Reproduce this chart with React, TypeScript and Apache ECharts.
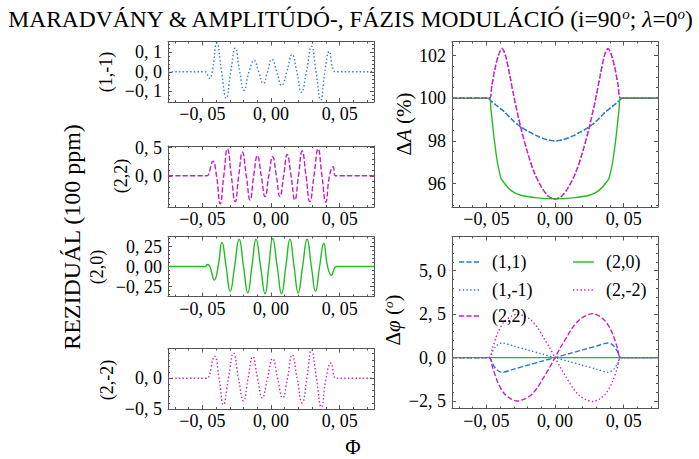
import React, { useEffect, useRef } from "react";
import * as echarts from "echarts";

// ---------------- data ----------------
const X_MIN = -0.075;
const X_MAX = 0.075;
const xMajorTicks = [-0.05, 0, 0.05];

// residual panels (phase, residual in 100 ppm)
const resid_1m1: [number, number][] = [
  [-0.075, 0], [-0.049, 0], [-0.048, 0], [-0.0447, -0.034], [-0.0428, 0], [-0.0394, 0.147],
  [-0.036, 0], [-0.0326, -0.135], [-0.0293, 0], [-0.026, 0.121], [-0.0228, 0], [-0.0196, -0.095],
  [-0.016, 0], [-0.0123, 0.058], [-0.009, 0], [-0.0056, -0.06], [-0.0025, 0], [0.0006, 0.064],
  [0.0042, 0], [0.0077, -0.07], [0.0115, 0], [0.0154, 0.088], [0.0188, 0], [0.0222, -0.105],
  [0.0258, 0], [0.0295, 0.13], [0.0328, 0], [0.0362, -0.145], [0.0392, 0], [0.0423, 0.104],
  [0.0452, 0.01], [0.047, 0], [0.048, 0], [0.075, 0],
];
const resid_22: [number, number][] = [
  [-0.075, 0], [-0.0475, 0], [-0.0466, 0], [-0.0423, 0.26], [-0.0397, 0], [-0.037, -0.5],
  [-0.0344, 0], [-0.0317, 0.48], [-0.0289, 0], [-0.0261, -0.46], [-0.0235, 0], [-0.0208, 0.42],
  [-0.018, 0], [-0.0152, -0.43], [-0.0126, 0], [-0.0099, 0.36], [-0.0071, 0], [-0.0043, -0.37],
  [-0.0016, 0], [0.0012, 0.34], [0.0039, 0], [0.0065, -0.37], [0.0092, 0], [0.0118, 0.38],
  [0.0146, 0], [0.0174, -0.43], [0.02, 0], [0.0227, 0.44], [0.0255, 0], [0.0283, -0.46],
  [0.0313, 0], [0.0343, 0.48], [0.0371, 0], [0.0399, -0.47], [0.0426, 0], [0.0452, 0.16],
  [0.0468, 0], [0.0478, 0], [0.075, 0],
];
const resid_20: [number, number][] = [
  [-0.075, 0], [-0.0485, 0], [-0.0478, 0], [-0.0465, 0.025], [-0.0445, 0], [-0.0413, -0.17],
  [-0.0385, 0], [-0.0357, 0.3], [-0.0327, 0], [-0.0297, -0.31], [-0.0265, 0], [-0.0232, 0.34],
  [-0.02, 0], [-0.0169, -0.33], [-0.0139, 0], [-0.0109, 0.34], [-0.0076, 0], [-0.0043, -0.34],
  [-0.0016, 0], [0.0012, 0.35], [0.0045, 0], [0.0077, -0.34], [0.0108, 0], [0.0138, 0.34],
  [0.0168, 0], [0.0198, -0.33], [0.023, 0], [0.0263, 0.34], [0.0294, 0], [0.0324, -0.31],
  [0.0354, 0], [0.0384, 0.29], [0.0412, 0], [0.044, -0.11], [0.0465, -0.01], [0.048, 0],
  [0.0487, 0], [0.075, 0],
];
const resid_2m2: [number, number][] = [
  [-0.075, 0], [-0.0475, 0], [-0.0466, 0], [-0.0411, 0.36], [-0.0378, 0], [-0.0346, -0.43],
  [-0.031, 0], [-0.0273, 0.41], [-0.0237, 0], [-0.02, -0.37], [-0.0167, 0], [-0.0133, 0.35],
  [-0.0098, 0], [-0.0063, -0.32], [-0.0026, 0], [0.0012, 0.32], [0.0048, 0], [0.0085, -0.32],
  [0.012, 0], [0.0154, 0.38], [0.019, 0], [0.0227, -0.4], [0.0261, 0], [0.0295, 0.46],
  [0.0331, 0], [0.0367, -0.47], [0.0401, 0], [0.0435, 0.25], [0.047, 0], [0.0478, 0], [0.075, 0],
];

// amplitude modulation ΔA (%)
const dA_11: [number, number][] = [
  [-0.075, 100], [-0.049, 100], [-0.046, 99.84], [-0.043, 99.68], [-0.037, 99.37], [-0.031, 98.98],
  [-0.025, 98.66], [-0.019, 98.43], [-0.013, 98.23], [-0.0065, 98.07], [0, 98.0], [0.0065, 98.07],
  [0.013, 98.23], [0.019, 98.43], [0.025, 98.66], [0.031, 98.98], [0.037, 99.37], [0.043, 99.68],
  [0.046, 99.84], [0.049, 100], [0.075, 100],
];
const dA_1m1: [number, number][] = [
  [-0.075, 100], [-0.049, 100], [-0.046, 99.84], [-0.043, 99.68], [-0.037, 99.37], [-0.031, 98.98],
  [-0.025, 98.66], [-0.019, 98.43], [-0.013, 98.23], [-0.0065, 98.07], [0, 98.0], [0.0065, 98.07],
  [0.013, 98.23], [0.019, 98.43], [0.025, 98.66], [0.031, 98.98], [0.037, 99.37], [0.043, 99.68],
  [0.046, 99.84], [0.049, 100], [0.075, 100],
];
const dA_22: [number, number][] = [
  [-0.075, 100], [-0.048, 100], [-0.046, 100.6], [-0.0435, 101.45], [-0.041, 102.05], [-0.0386, 102.33],
  [-0.036, 102.0], [-0.033, 101.1], [-0.03, 100.1], [-0.025, 98.65], [-0.02, 97.45], [-0.015, 96.5],
  [-0.01, 95.85], [-0.005, 95.42], [0, 95.27], [0.005, 95.42], [0.01, 95.85], [0.015, 96.5],
  [0.02, 97.45], [0.025, 98.65], [0.03, 100.1], [0.033, 101.1], [0.036, 102.0], [0.0386, 102.33],
  [0.041, 102.05], [0.0435, 101.45], [0.046, 100.6], [0.048, 100], [0.075, 100],
];
const dA_2m2: [number, number][] = [
  [-0.075, 100], [-0.048, 100], [-0.046, 100.6], [-0.0435, 101.45], [-0.041, 102.05], [-0.0386, 102.33],
  [-0.036, 102.0], [-0.033, 101.1], [-0.03, 100.1], [-0.025, 98.65], [-0.02, 97.45], [-0.015, 96.5],
  [-0.01, 95.85], [-0.005, 95.42], [0, 95.27], [0.005, 95.42], [0.01, 95.85], [0.015, 96.5],
  [0.02, 97.45], [0.025, 98.65], [0.03, 100.1], [0.033, 101.1], [0.036, 102.0], [0.0386, 102.33],
  [0.041, 102.05], [0.0435, 101.45], [0.046, 100.6], [0.048, 100], [0.075, 100],
];
const dA_20: [number, number][] = [
  [-0.075, 100], [-0.0478, 100], [-0.0466, 99.45], [-0.0442, 98.04], [-0.0418, 96.94], [-0.0398, 96.36],
  [-0.039, 96.2], [-0.0321, 95.68], [-0.0249, 95.45], [-0.0128, 95.33], [0, 95.29], [0.0128, 95.33],
  [0.0249, 95.45], [0.0321, 95.68], [0.039, 96.2], [0.0398, 96.36], [0.0418, 96.94], [0.0442, 98.04],
  [0.0466, 99.45], [0.0478, 100], [0.075, 100],
];

// phase modulation Δφ (deg)
const dPhi_11: [number, number][] = [
  [-0.075, 0], [-0.048, 0], [-0.0455, -0.35], [-0.043, -0.65], [-0.0405, -0.8], [-0.0386, -0.84],
  [-0.03, -0.66], [-0.02, -0.44], [-0.01, -0.22], [0, 0], [0.01, 0.22], [0.02, 0.44], [0.03, 0.66],
  [0.0386, 0.84], [0.0405, 0.8], [0.043, 0.65], [0.0455, 0.35], [0.048, 0], [0.075, 0],
];
const dPhi_1m1: [number, number][] = [
  [-0.075, 0], [-0.048, 0], [-0.0455, 0.35], [-0.043, 0.65], [-0.0405, 0.8], [-0.0386, 0.84],
  [-0.03, 0.66], [-0.02, 0.44], [-0.01, 0.22], [0, 0], [0.01, -0.22], [0.02, -0.44], [0.03, -0.66],
  [0.0386, -0.84], [0.0405, -0.8], [0.043, -0.65], [0.0455, -0.35], [0.048, 0], [0.075, 0],
];
const dPhi_22: [number, number][] = [
  [-0.075, 0], [-0.048, 0], [-0.0455, -0.55], [-0.0418, -1.4], [-0.037, -2.07], [-0.032, -2.38],
  [-0.0275, -2.5], [-0.022, -2.38], [-0.0176, -2.17], [-0.013, -1.75], [-0.008, -1.11], [-0.004, -0.58],
  [0, 0], [0.004, 0.58], [0.008, 1.11], [0.013, 1.75], [0.0176, 2.17], [0.022, 2.4], [0.0275, 2.53],
  [0.032, 2.4], [0.037, 2.07], [0.0418, 1.4], [0.0455, 0.55], [0.048, 0], [0.075, 0],
];
const dPhi_2m2: [number, number][] = [
  [-0.075, 0], [-0.048, 0], [-0.0455, 0.55], [-0.0418, 1.4], [-0.037, 2.07], [-0.032, 2.38],
  [-0.0275, 2.5], [-0.022, 2.38], [-0.0176, 2.17], [-0.013, 1.75], [-0.008, 1.11], [-0.004, 0.58],
  [0, 0], [0.004, -0.58], [0.008, -1.11], [0.013, -1.75], [0.0176, -2.17], [0.022, -2.4], [0.0275, -2.53],
  [0.032, -2.4], [0.037, -2.07], [0.0418, -1.4], [0.0455, -0.55], [0.048, 0], [0.075, 0],
];
const dPhi_20: [number, number][] = [[-0.075, 0], [0.075, 0]];

// tick values
const yTicksL1 = [-0.1, 0, 0.1];
const yTicksL2 = [0, 0.5];
const yTicksL3 = [-0.25, 0, 0.25];
const yTicksL4 = [-0.5, 0];
const yTicksR1 = [96, 98, 100, 102];
const yTicksR2 = [-2.5, 0, 2.5, 5];

const legendNames = ["(1,1)", "(1,-1)", "(2,2)", "(2,0)", "(2,-2)"];

// ---------------- styling ----------------
const BLUE = "#2a79d0";
const MAGENTA = "#c81ec8";
const GREEN = "#22bd22";
const FRAME = "#555555";
const FONT = "'Liberation Serif', 'DejaVu Serif', serif";
const LW = 1.4;
const DASH = [5.2, 2.2];
const DOT = [1.4, 2.3];

type Style = { color: string; dash: number[] | "solid" };
const styles: Style[] = [
  { color: BLUE, dash: DASH },
  { color: BLUE, dash: DOT },
  { color: MAGENTA, dash: DASH },
  { color: GREEN, dash: "solid" },
  { color: MAGENTA, dash: DOT },
];

const fmt = (dec: number) => (v: number) => {
  const s = Math.abs(v).toFixed(dec).replace(".", ", ");
  return (v < -1e-9 ? "\u2212" : "") + s;
};

function minorTicks(min: number, max: number, step: number, majors: number[]) {
  const out: number[] = [];
  const start = Math.ceil(min / step - 1e-9);
  for (let k = start; k * step <= max + 1e-9; k++) {
    const v = +(k * step).toFixed(6);
    if (!majors.some((m) => Math.abs(m - v) < 1e-9)) out.push(v);
  }
  return out;
}

type Panel = {
  left: number; top: number; width: number; height: number;
  yMin: number; yMax: number; yMajor: number[]; yMinorStep: number; yDec: number;
};

const panels: Panel[] = [
  { left: 168, top: 41.5, width: 206, height: 60.5, yMin: -0.155, yMax: 0.155, yMajor: yTicksL1, yMinorStep: 0.02, yDec: 1 },
  { left: 168, top: 146, width: 206, height: 61, yMin: -0.555, yMax: 0.53, yMajor: yTicksL2, yMinorStep: 0.1, yDec: 1 },
  { left: 168, top: 236.5, width: 206, height: 60, yMin: -0.375, yMax: 0.375, yMajor: yTicksL3, yMinorStep: 0.05, yDec: 2 },
  { left: 168, top: 348.5, width: 206, height: 60.5, yMin: -0.5, yMax: 0.485, yMajor: yTicksL4, yMinorStep: 0.1, yDec: 1 },
  { left: 452, top: 41.5, width: 206, height: 165.5, yMin: 94.9, yMax: 102.66, yMajor: yTicksR1, yMinorStep: 0.5, yDec: 0 },
  { left: 452, top: 236.5, width: 206, height: 172, yMin: -2.93, yMax: 6.97, yMajor: yTicksR2, yMinorStep: 0.5, yDec: 1 },
];

const labelStyle = { fontFamily: FONT, fontSize: 18, color: "#000" };
const tickLine = { color: FRAME, width: 1 };

function buildAxes() {
  const grids: any[] = [];
  const xAxes: any[] = [];
  const yAxes: any[] = [];
  const xMinor = minorTicks(X_MIN, X_MAX, 0.01, xMajorTicks);
  panels.forEach((p, gi) => {
    grids.push({ left: p.left, top: p.top, width: p.width, height: p.height, containLabel: false });
    const yMinor = minorTicks(p.yMin, p.yMax, p.yMinorStep, p.yMajor);
    (["bottom", "top"] as const).forEach((pos) => {
      xAxes.push({
        type: "value", gridIndex: gi, position: pos, min: X_MIN, max: X_MAX,
        axisLine: { show: true, onZero: false, lineStyle: tickLine },
        axisTick: { show: true, inside: true, length: 4, customValues: xMajorTicks, lineStyle: tickLine },
        axisLabel: pos === "bottom"
          ? { show: true, customValues: xMajorTicks, formatter: fmt(2), margin: 3, ...labelStyle }
          : { show: false },
        splitLine: { show: false },
      });
      xAxes.push({
        type: "value", gridIndex: gi, position: pos, min: X_MIN, max: X_MAX,
        axisLine: { show: false, onZero: false },
        axisTick: { show: true, inside: true, length: 2, customValues: xMinor, lineStyle: tickLine },
        axisLabel: { show: false },
        splitLine: { show: false },
      });
    });
    (["left", "right"] as const).forEach((pos) => {
      yAxes.push({
        type: "value", gridIndex: gi, position: pos, min: p.yMin, max: p.yMax,
        axisLine: { show: true, onZero: false, lineStyle: tickLine },
        axisTick: { show: true, inside: true, length: 4, customValues: p.yMajor, lineStyle: tickLine },
        axisLabel: pos === "left"
          ? { show: true, customValues: p.yMajor, formatter: fmt(p.yDec), margin: 6, ...labelStyle }
          : { show: false },
        splitLine: { show: false },
      });
      yAxes.push({
        type: "value", gridIndex: gi, position: pos, min: p.yMin, max: p.yMax,
        axisLine: { show: false, onZero: false },
        axisTick: { show: true, inside: true, length: 2, customValues: yMinor, lineStyle: tickLine },
        axisLabel: { show: false },
        splitLine: { show: false },
      });
    });
  });
  return { grids, xAxes, yAxes };
}

function lineSeries(gi: number, data: [number, number][], st: Style, smooth: number, name: string) {
  return {
    type: "line", name, xAxisIndex: gi * 4, yAxisIndex: gi * 4, data,
    showSymbol: false, symbol: "none", smooth, silent: true,
    lineStyle: { color: st.color, width: LW, type: st.dash },
  };
}

function vText(x: number, y: number, text: string, size: number, rich?: any) {
  return {
    type: "text", x, y, rotation: Math.PI / 2, z: 10,
    style: { text, fontFamily: FONT, fontSize: size, fill: "#000", align: "center", verticalAlign: "middle", rich },
  };
}

export default function App() {
  const ref = useRef<HTMLDivElement>(null);
  useEffect(() => {
    if (!ref.current) return;
    const chart = echarts.init(ref.current, undefined, { renderer: "svg" });
    const { grids, xAxes, yAxes } = buildAxes();

    const series: any[] = [
      lineSeries(0, resid_1m1, styles[1], 0.5, "L(1,-1)"),
      lineSeries(1, resid_22, styles[2], 0.5, "L(2,2)"),
      lineSeries(2, resid_20, styles[3], 0.5, "L(2,0)"),
      lineSeries(3, resid_2m2, styles[4], 0.5, "L(2,-2)"),
    ];
    const ampSets = [dA_11, dA_1m1, dA_22, dA_20, dA_2m2];
    const phiSets = [dPhi_11, dPhi_1m1, dPhi_22, dPhi_20, dPhi_2m2];
    ampSets.forEach((d, k) => series.push(lineSeries(4, d, styles[k], 0.3, "A" + legendNames[k])));
    phiSets.forEach((d, k) => series.push(lineSeries(5, d, styles[k], 0.3, "P" + legendNames[k])));

    const richBase = {
      n: { fontFamily: FONT, fontSize: 21, fill: "#000", lineHeight: 24 },
      i: { fontFamily: FONT, fontSize: 21, fontStyle: "italic", fill: "#000", lineHeight: 24 },
      s: { fontFamily: FONT, fontSize: 13, fontStyle: "italic", fill: "#000", lineHeight: 24, padding: [0, 0, 9, 0] },
    };

    const legendGraphics: any[] = [];
    const legendPos = [
      { x0: 459, x1: 480, tx: 492, y: 262 },
      { x0: 459, x1: 480, tx: 492, y: 290 },
      { x0: 459, x1: 480, tx: 492, y: 316 },
      { x0: 573, x1: 594, tx: 606, y: 262 },
      { x0: 573, x1: 594, tx: 606, y: 290 },
    ];
    legendNames.forEach((nm, k) => {
      const lp = legendPos[k];
      const st = styles[k];
      legendGraphics.push({
        type: "line", z: 10,
        shape: { x1: lp.x0, y1: lp.y, x2: lp.x1, y2: lp.y },
        style: { stroke: st.color, lineWidth: LW, lineDash: st.dash === "solid" ? null : st.dash },
      });
      legendGraphics.push({
        type: "text", x: lp.tx, y: lp.y, z: 10,
        style: { text: nm, fontFamily: FONT, fontSize: 18, fill: "#000", align: "left", verticalAlign: "middle" },
      });
    });

    const option: any = {
      animation: false,
      grid: grids,
      xAxis: xAxes,
      yAxis: yAxes,
      series,
      graphic: [
        {
          type: "text", x: 350, y: 19, z: 10,
          style: {
            text: "{n|MARADVÁNY & AMPLITÚDÓ-, FÁZIS MODULÁCIÓ (i=90}{s|o}{n|; }{i|λ}{n|=0}{s|o}{n|)}",
            align: "center", verticalAlign: "middle",
            rich: {
              n: { fontFamily: FONT, fontSize: 23.5, fill: "#000", lineHeight: 28 },
              i: { fontFamily: FONT, fontSize: 23.5, fontStyle: "italic", fill: "#000", lineHeight: 28 },
              s: { fontFamily: FONT, fontSize: 15, fontStyle: "italic", fill: "#000", lineHeight: 28, padding: [0, 0, 11, 0] },
            },
          },
        },
        vText(72, 237, "REZIDUÁL (100 ppm)", 24),
        vText(106, 72, "(1,-1)", 18),
        vText(121, 176, "(2,2)", 18),
        vText(97, 267, "(2,0)", 18),
        vText(107, 380, "(2,-2)", 18),
        vText(404, 124, "{n|Δ}{i|A}{n| (%)}", 21, richBase),
        vText(393, 320, "{n|Δ}{i|φ}{n| (}{s|o}{n|)}", 21, richBase),
        {
          type: "text", x: 353, y: 447, z: 10,
          style: { text: "Φ", fontFamily: FONT, fontSize: 21, fill: "#000", align: "center", verticalAlign: "middle" },
        },
        ...legendGraphics,
      ],
    };
    chart.setOption(option);
    return () => chart.dispose();
  }, []);
  return (
    <div
      ref={ref}
      style={{ position: "fixed", left: 0, top: 0, width: 699, height: 459, background: "#fff" }}
    />
  );
}
